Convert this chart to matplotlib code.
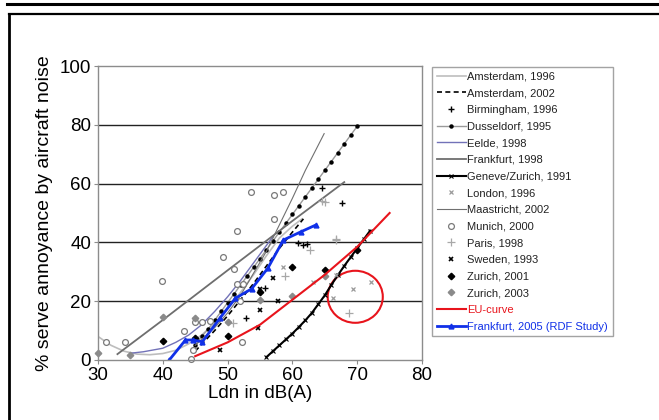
import matplotlib
matplotlib.use("Agg")
import matplotlib.pyplot as plt
from matplotlib.lines import Line2D
from matplotlib.patches import Ellipse

plt.rcParams['font.family'] = ['Liberation Sans', 'DejaVu Sans']

# curves (Ldn, % highly annoyed)
ams96_x = [30, 32, 34, 36, 38, 40, 42, 44, 46, 48, 50, 52, 54, 56, 58, 60, 61.5]
ams96_y = [8, 5, 3, 2, 1.8, 2.2, 3.3, 5.5, 8.5, 12.5, 17.5, 23, 29, 35.5, 41.5, 45.5, 48]

ams02_x = [45, 48, 50, 52, 54, 56, 58, 60, 61.7]
ams02_y = [3, 10, 15, 20.5, 26, 32, 38, 43.5, 48]

dus_x = [45, 46, 47, 48, 49, 50, 51, 52, 53, 54, 55, 56, 57, 58, 59, 60, 61, 62,
         63, 64, 65, 66, 67, 68, 69, 70]
dus_y = [5, 8, 10.5, 13.5, 16.5, 19.5, 22.5, 25.5, 28.5, 31.5, 34.5, 37.5, 40.5,
         43.5, 46.5, 49.5, 52.5, 55.5, 58.5, 61.5, 64.5, 67.5, 70.5, 73.5, 76.5, 79.5]

eelde_x = [35, 37, 40, 42, 44, 46, 48, 50, 52, 54, 56, 57]
eelde_y = [2.3, 2.8, 4, 6, 8.5, 12, 16.5, 21.5, 27, 33, 39, 42]

fra98_x = [33, 40, 50, 60, 68]
fra98_y = [2, 13.6, 30.5, 47.3, 60.5]

gz_x = [56, 57, 58, 59, 60, 61, 62, 63, 64, 65, 66, 67, 68, 69, 70, 71, 72]
gz_y = [1, 3, 5, 7, 9, 11.2, 13.5, 16, 19, 22, 25.5, 28.8, 32, 35, 38, 41, 44]

maas_x = [45, 48, 50, 52, 54, 56, 58, 60, 62, 64.9]
maas_y = [5, 11, 16, 22, 29.5, 37, 46, 55, 64.5, 77]

eu_x = [45, 50, 55, 60, 65, 70, 75]
eu_y = [1.3, 6, 12, 20.5, 29, 38.5, 50]

fra05_x = [41, 43.5, 44.7, 46.1, 48.8, 51.2, 53.7, 56.2, 58.6, 61.3, 63.6]
fra05_y = [0, 6.8, 6.8, 6.2, 14.2, 21, 24.2, 31.2, 40.8, 43.6, 45.9]

# survey points
birm_x = [64.5, 67.6, 61.7, 55.8, 60.9, 62.2, 52.8]
birm_y = [58.5, 53.3, 39.1, 24.4, 39.7, 39.5, 14.2]

london_x = [69.3, 72.2, 66.3, 63.2, 66.8, 58.6]
london_y = [24.2, 26.4, 21.2, 26.4, 28.9, 31.5]

munich_x = [31.2, 34.2, 39.8, 43.2, 44.7, 44.3, 45, 46, 47.3, 49.3, 51, 51.4,
            51.4, 52.4, 51.9, 52.2, 53.6, 57.2, 58.5, 57.1]
munich_y = [6, 6, 27, 10, 3.4, 0.3, 13, 13, 13.3, 35, 31, 44, 26, 26, 20, 6.2,
            57, 56, 57, 48]

paris_x = [65, 66.7, 62.7, 64.6, 58.9, 50.9, 68.8, 66.8]
paris_y = [53.9, 41, 37.4, 54.2, 28.7, 12.5, 16.1, 40.8]

sweden_x = [48.8, 54.7, 55, 55, 57, 57.8]
sweden_y = [3.4, 10.8, 17, 24, 28, 20.2]

zur01_x = [40, 45, 50, 55, 60, 65, 70]
zur01_y = [6.6, 7.5, 8, 23, 31.5, 30.5, 37.5]

zur03_x = [30, 35, 40, 45, 50, 55, 60, 65]
zur03_y = [2.3, 1.7, 14.7, 14.2, 13, 20.4, 21.8, 28.6]

fig = plt.figure(figsize=(6.59, 4.2), dpi=100)
ax = fig.add_axes([98 / 659, 60 / 420, 324 / 659, 294 / 420])

ax.plot(ams96_x, ams96_y, color="#bdbdbd", lw=1.2, label="Amsterdam, 1996")
ax.plot(ams02_x, ams02_y, color="black", lw=1.2, ls=(0, (3, 2)), label="Amsterdam, 2002")
ax.plot(birm_x, birm_y, ls="none", marker="+", color="black", ms=4.5, mew=1, label="Birmingham, 1996")
ax.plot(dus_x, dus_y, color="#9a9a9a", lw=1.0, marker="o", ms=2.2, mfc="black", mec="black",
        label="Dusseldorf, 1995")
ax.plot(eelde_x, eelde_y, color="#7272b8", lw=1.0, label="Eelde, 1998")
ax.plot(fra98_x, fra98_y, color="#6e6e6e", lw=1.3, label="Frankfurt, 1998")
ax.plot(gz_x, gz_y, color="black", lw=1.5, marker="x", ms=3.5, mew=0.8, label="Geneve/Zurich, 1991")
ax.plot(london_x, london_y, ls="none", marker="x", color="#9a9a9a", ms=3.5, mew=0.9, label="London, 1996")
ax.plot(maas_x, maas_y, color="#707070", lw=0.8, label="Maastricht, 2002")
ax.plot(munich_x, munich_y, ls="none", marker="o", mfc="white", mec="#7a7a7a", ms=4.2, mew=0.9,
        clip_on=False, label="Munich, 2000")
ax.plot(paris_x, paris_y, ls="none", marker="+", color="#a8a8a8", ms=5.5, mew=0.9, label="Paris, 1998")
ax.plot(sweden_x, sweden_y, ls="none", marker="x", color="black", ms=3, mew=1.2, label="Sweden, 1993")
ax.plot(zur01_x, zur01_y, ls="none", marker="D", color="black", ms=3.3, label="Zurich, 2001")
ax.plot(zur03_x, zur03_y, ls="none", marker="D", color="#8a8a8a", ms=3.3, clip_on=False, label="Zurich, 2003")
ax.plot(eu_x, eu_y, color="#e8141c", lw=1.5, label="EU-curve")
ax.plot(fra05_x, fra05_y, color="#1030e8", lw=2.0, marker="^", ms=3.5, label="Frankfurt, 2005 (RDF Study)")

ax.add_patch(Ellipse((69.7, 21.5), 8.5, 17.7, fill=False, ec="#e8141c", lw=1.5))

ax.set_xlim(30, 80)
ax.set_ylim(0, 100)
ax.set_xticks(range(30, 81, 10))
ax.set_yticks(range(0, 101, 20))
for v in [20, 40, 60, 80]:
    ax.axhline(v, color="#222222", lw=1.0, zorder=0)
for s in ax.spines.values():
    s.set_color("#8c8c8c")
    s.set_linewidth(1.0)
ax.tick_params(labelsize=13.5, length=3, color="#8c8c8c", pad=2)
ax.set_xlabel("Ldn in dB(A)", fontsize=13.5, labelpad=1)
ax.set_ylabel("% serve annoyance by aircraft noise", fontsize=14, labelpad=5)

leg = ax.legend(loc="upper left", bbox_to_anchor=(432 / 659, 1 - 67 / 420),
                bbox_transform=fig.transFigure, borderaxespad=0, fontsize=8,
                numpoints=1, handlelength=2.6, handletextpad=0.15, labelspacing=0.6,
                fancybox=False, frameon=True, borderpad=0.42)
leg.get_frame().set_edgecolor("#8c8c8c")
leg.get_frame().set_linewidth(1.0)
for t in leg.get_texts():
    t.set_color("#222222")
leg.get_texts()[-2].set_color("#e8141c")
leg.get_texts()[-1].set_color("#1030e8")

# page frame around the figure
fig.add_artist(Line2D([7 / 659, 1], [1 - 4 / 420] * 2, transform=fig.transFigure, color="black", lw=2.2))
fig.add_artist(Line2D([8.5 / 659, 1], [1 - 14 / 420] * 2, transform=fig.transFigure, color="black", lw=1.6))
fig.add_artist(Line2D([8.5 / 659] * 2, [0, 1 - 14 / 420], transform=fig.transFigure, color="black", lw=2))

fig.savefig("out.png", dpi=100)
